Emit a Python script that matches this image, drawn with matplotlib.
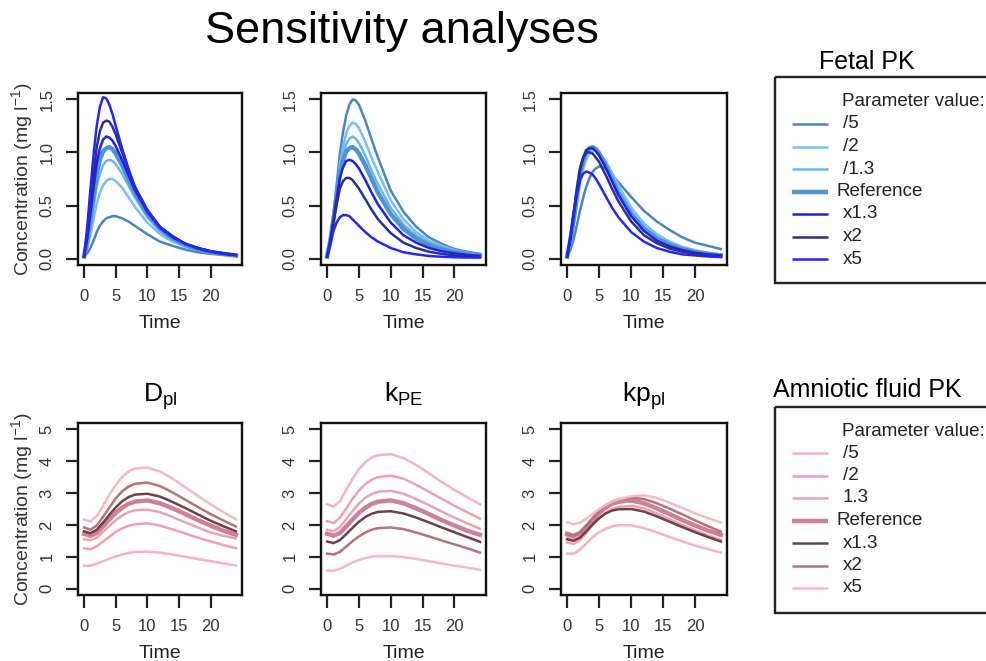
import matplotlib
matplotlib.use("Agg")
import matplotlib.pyplot as plt
from matplotlib.patches import Rectangle

plt.rcParams['font.family'] = ['Liberation Sans', 'DejaVu Sans']
plt.rcParams['mathtext.fontset'] = 'custom'
plt.rcParams['mathtext.rm'] = 'Liberation Sans'
plt.rcParams['mathtext.it'] = 'Liberation Sans:italic'

# time grids (h)
time_fetal = [0, 0.5, 1, 1.5, 2, 2.5, 3, 3.5, 4, 4.5, 5, 6, 7, 8, 10, 12, 14, 16, 18, 20, 22, 24]
time_af = [0, 1, 2, 3, 4, 5, 6, 7, 8, 10, 12, 14, 16, 18, 20, 22, 24]

labels_fetal = ['/5', '/2', '/1.3', 'Reference', 'x1.3', 'x2', 'x5']
labels_af = ['/5', '/2', '1.3', 'Reference', 'x1.3', 'x2', 'x5']
colors_fetal = ['#4a86bd', '#79bff2', '#6cb6ee', '#4f93cf', '#1f1fe6', '#2d2d8c', '#2626f2']
colors_af = ['#f6b3c2', '#f0a0b4', '#eaa3b5', '#cf8099', '#6e3f4d', '#b5727f', '#f5bac7']
widths = [1.8, 1.8, 1.8, 3.2, 1.8, 1.8, 1.8]

panel_titles = [r'D$_{\mathrm{pl}}$', r'k$_{\mathrm{PE}}$', r'kp$_{\mathrm{pl}}$']

# fetal PK, one list per parameter value (/5, /2, /1.3, ref, x1.3, x2, x5)
fetal_dpl = [
    [0.02, 0.05, 0.10, 0.17, 0.25, 0.31, 0.35, 0.38, 0.39, 0.40, 0.40, 0.38, 0.35, 0.31, 0.23, 0.16, 0.12, 0.085, 0.06, 0.045, 0.035, 0.025],
    [0.02, 0.10, 0.22, 0.37, 0.52, 0.62, 0.69, 0.73, 0.75, 0.75, 0.73, 0.67, 0.58, 0.49, 0.34, 0.23, 0.16, 0.11, 0.08, 0.055, 0.04, 0.03],
    [0.02, 0.14, 0.30, 0.49, 0.68, 0.80, 0.88, 0.92, 0.93, 0.92, 0.89, 0.80, 0.69, 0.58, 0.39, 0.26, 0.18, 0.12, 0.085, 0.06, 0.04, 0.03],
    [0.02, 0.17, 0.37, 0.59, 0.80, 0.93, 1.01, 1.04, 1.05, 1.03, 0.99, 0.88, 0.75, 0.62, 0.42, 0.28, 0.19, 0.13, 0.09, 0.06, 0.045, 0.03],
    [0.02, 0.19, 0.42, 0.67, 0.90, 1.04, 1.12, 1.15, 1.14, 1.11, 1.06, 0.93, 0.79, 0.65, 0.44, 0.29, 0.20, 0.14, 0.095, 0.065, 0.045, 0.03],
    [0.02, 0.23, 0.50, 0.79, 1.05, 1.20, 1.28, 1.30, 1.29, 1.24, 1.17, 1.00, 0.84, 0.68, 0.46, 0.30, 0.21, 0.14, 0.10, 0.07, 0.05, 0.035],
    [0.02, 0.30, 0.65, 0.98, 1.25, 1.43, 1.52, 1.51, 1.45, 1.36, 1.25, 1.04, 0.85, 0.68, 0.45, 0.30, 0.21, 0.14, 0.10, 0.07, 0.05, 0.035],
]
fetal_kpe = [
    [0.02, 0.19, 0.42, 0.70, 0.98, 1.19, 1.35, 1.45, 1.50, 1.49, 1.45, 1.30, 1.12, 0.95, 0.64, 0.44, 0.30, 0.20, 0.14, 0.09, 0.065, 0.045],
    [0.02, 0.17, 0.38, 0.63, 0.88, 1.05, 1.18, 1.25, 1.28, 1.27, 1.23, 1.10, 0.95, 0.81, 0.55, 0.37, 0.25, 0.17, 0.12, 0.08, 0.055, 0.04],
    [0.02, 0.17, 0.37, 0.60, 0.83, 0.98, 1.08, 1.13, 1.15, 1.13, 1.09, 0.97, 0.83, 0.70, 0.48, 0.32, 0.22, 0.15, 0.10, 0.07, 0.05, 0.035],
    [0.02, 0.17, 0.37, 0.59, 0.80, 0.93, 1.01, 1.04, 1.05, 1.03, 0.99, 0.88, 0.75, 0.62, 0.42, 0.28, 0.19, 0.13, 0.09, 0.06, 0.045, 0.03],
    [0.02, 0.16, 0.36, 0.57, 0.76, 0.86, 0.92, 0.93, 0.92, 0.89, 0.85, 0.74, 0.62, 0.51, 0.34, 0.22, 0.15, 0.10, 0.07, 0.05, 0.035, 0.025],
    [0.02, 0.16, 0.34, 0.51, 0.66, 0.73, 0.76, 0.76, 0.74, 0.70, 0.66, 0.56, 0.46, 0.37, 0.24, 0.15, 0.10, 0.065, 0.045, 0.03, 0.02, 0.015],
    [0.02, 0.13, 0.26, 0.34, 0.39, 0.41, 0.41, 0.40, 0.37, 0.34, 0.31, 0.25, 0.20, 0.16, 0.10, 0.06, 0.04, 0.025, 0.018, 0.013, 0.01, 0.01],
]
fetal_kppl = [
    [0.02, 0.08, 0.18, 0.31, 0.45, 0.57, 0.68, 0.76, 0.82, 0.85, 0.87, 0.85, 0.79, 0.72, 0.58, 0.45, 0.35, 0.27, 0.20, 0.15, 0.12, 0.09],
    [0.02, 0.14, 0.30, 0.50, 0.70, 0.84, 0.94, 0.99, 1.02, 1.02, 1.00, 0.92, 0.81, 0.69, 0.48, 0.33, 0.23, 0.16, 0.11, 0.08, 0.055, 0.04],
    [0.02, 0.16, 0.34, 0.56, 0.77, 0.90, 0.99, 1.03, 1.04, 1.02, 0.99, 0.89, 0.77, 0.64, 0.44, 0.30, 0.20, 0.14, 0.095, 0.065, 0.045, 0.03],
    [0.02, 0.17, 0.37, 0.59, 0.80, 0.93, 1.01, 1.04, 1.05, 1.03, 0.99, 0.88, 0.75, 0.62, 0.42, 0.28, 0.19, 0.13, 0.09, 0.06, 0.045, 0.03],
    [0.02, 0.18, 0.39, 0.62, 0.83, 0.95, 1.02, 1.04, 1.04, 1.01, 0.97, 0.86, 0.73, 0.60, 0.40, 0.26, 0.17, 0.115, 0.08, 0.055, 0.04, 0.03],
    [0.02, 0.20, 0.42, 0.65, 0.85, 0.95, 1.00, 1.00, 0.99, 0.95, 0.91, 0.79, 0.66, 0.54, 0.35, 0.22, 0.145, 0.095, 0.065, 0.045, 0.03, 0.02],
    [0.02, 0.21, 0.42, 0.60, 0.74, 0.80, 0.82, 0.81, 0.79, 0.75, 0.70, 0.59, 0.48, 0.39, 0.25, 0.16, 0.10, 0.065, 0.04, 0.03, 0.02, 0.015],
]

# amniotic fluid PK
af_dpl = [
    [0.72, 0.72, 0.78, 0.86, 0.94, 1.01, 1.07, 1.12, 1.15, 1.16, 1.13, 1.07, 1.00, 0.93, 0.86, 0.79, 0.73],
    [1.26, 1.24, 1.33, 1.48, 1.63, 1.78, 1.89, 1.97, 2.02, 2.05, 1.98, 1.86, 1.73, 1.60, 1.48, 1.37, 1.27],
    [1.55, 1.52, 1.60, 1.78, 1.97, 2.15, 2.29, 2.40, 2.46, 2.48, 2.40, 2.25, 2.08, 1.92, 1.76, 1.66, 1.58],
    [1.72, 1.66, 1.75, 1.95, 2.17, 2.38, 2.54, 2.66, 2.73, 2.77, 2.68, 2.52, 2.34, 2.15, 1.98, 1.82, 1.69],
    [1.80, 1.74, 1.85, 2.07, 2.32, 2.55, 2.74, 2.87, 2.95, 2.98, 2.89, 2.72, 2.53, 2.33, 2.13, 1.96, 1.80],
    [1.92, 1.85, 1.98, 2.25, 2.55, 2.83, 3.05, 3.20, 3.29, 3.33, 3.22, 3.02, 2.79, 2.56, 2.34, 2.14, 1.95],
    [2.17, 2.10, 2.28, 2.60, 2.95, 3.25, 3.50, 3.67, 3.77, 3.80, 3.68, 3.45, 3.18, 2.91, 2.65, 2.40, 2.18],
]
af_kpe = [
    [2.65, 2.57, 2.75, 3.10, 3.45, 3.75, 3.97, 4.12, 4.19, 4.22, 4.10, 3.88, 3.62, 3.35, 3.10, 2.87, 2.65],
    [2.12, 2.06, 2.22, 2.52, 2.82, 3.08, 3.28, 3.42, 3.50, 3.55, 3.45, 3.26, 3.04, 2.82, 2.60, 2.40, 2.20],
    [1.85, 1.80, 1.93, 2.18, 2.44, 2.67, 2.85, 2.97, 3.04, 3.07, 2.98, 2.81, 2.62, 2.42, 2.23, 2.05, 1.88],
    [1.72, 1.66, 1.75, 1.95, 2.17, 2.38, 2.54, 2.66, 2.73, 2.77, 2.68, 2.52, 2.34, 2.15, 1.98, 1.82, 1.69],
    [1.48, 1.43, 1.52, 1.71, 1.91, 2.10, 2.25, 2.35, 2.41, 2.43, 2.36, 2.23, 2.08, 1.92, 1.77, 1.62, 1.47],
    [1.10, 1.07, 1.15, 1.32, 1.49, 1.64, 1.76, 1.85, 1.90, 1.92, 1.87, 1.76, 1.64, 1.51, 1.39, 1.27, 1.13],
    [0.57, 0.56, 0.62, 0.72, 0.82, 0.90, 0.96, 1.00, 1.02, 1.02, 0.99, 0.93, 0.86, 0.79, 0.72, 0.66, 0.59],
]
af_kppl = [
    [1.10, 1.10, 1.22, 1.42, 1.62, 1.77, 1.88, 1.95, 1.99, 1.99, 1.90, 1.77, 1.62, 1.48, 1.35, 1.24, 1.13],
    [1.45, 1.40, 1.52, 1.75, 2.00, 2.22, 2.38, 2.50, 2.56, 2.60, 2.52, 2.36, 2.18, 2.00, 1.83, 1.67, 1.52],
    [1.62, 1.57, 1.68, 1.90, 2.14, 2.36, 2.53, 2.64, 2.71, 2.75, 2.68, 2.53, 2.35, 2.17, 1.99, 1.83, 1.67],
    [1.72, 1.66, 1.75, 1.95, 2.17, 2.38, 2.54, 2.66, 2.73, 2.77, 2.68, 2.52, 2.34, 2.15, 1.98, 1.82, 1.69],
    [1.55, 1.50, 1.60, 1.80, 2.02, 2.21, 2.36, 2.45, 2.49, 2.50, 2.42, 2.27, 2.10, 1.93, 1.77, 1.62, 1.48],
    [1.70, 1.65, 1.76, 1.98, 2.22, 2.44, 2.61, 2.73, 2.81, 2.86, 2.81, 2.68, 2.51, 2.33, 2.14, 1.96, 1.79],
    [2.08, 2.02, 2.07, 2.20, 2.35, 2.50, 2.63, 2.73, 2.81, 2.90, 2.93, 2.85, 2.70, 2.53, 2.36, 2.21, 2.08],
]

fetal = [fetal_dpl, fetal_kpe, fetal_kppl]
amnio = [af_dpl, af_kpe, af_kppl]

W, H = 987, 661
fig = plt.figure(figsize=(W / 100, H / 100), dpi=100)
fig.patch.set_facecolor('white')

def px_axes(x0, y0, x1, y1):
    # pixel box (top-left origin) -> figure fraction
    return fig.add_axes([x0 / W, 1 - y1 / H, (x1 - x0) / W, (y1 - y0) / H])

col_x = [(78, 242), (321, 486), (561, 727)]
ylab = r'Concentration (mg l$^{\mathrm{-1}}$)'

def style(ax, ymax, yticks, fmt):
    ax.set_xlim(-0.96, 24.96)
    ax.set_ylim(-0.04 * ymax, ymax * 1.04)
    ax.set_xticks([0, 5, 10, 15, 20])
    ax.set_yticks(yticks)
    ax.set_yticklabels([fmt % v for v in yticks], rotation=90, va='center')
    ax.tick_params(direction='out', length=9, width=1.6, labelsize=12, color='#222222',
                   labelcolor='#333333', pad=8)
    for s in ax.spines.values():
        s.set_linewidth(1.7)
        s.set_color('#111111')
    ax.set_xlabel('Time', fontsize=14, color='#222222', labelpad=8)

for j in range(3):
    x0, x1 = col_x[j]
    ax = px_axes(x0, 93, x1, 265)
    for k in range(7):
        ax.plot(time_fetal, fetal[j][k], color=colors_fetal[k], lw=widths[k])
    style(ax, 1.5, [0.0, 0.5, 1.0, 1.5], '%.1f')
    if j == 0:
        ax.set_ylabel(ylab, fontsize=14, color='#333333', labelpad=3)

    ax = px_axes(x0, 423, x1, 595)
    for k in range(7):
        ax.plot(time_af, amnio[j][k], color=colors_af[k], lw=widths[k])
    style(ax, 5, [0, 1, 2, 3, 4, 5], '%d')
    ax.set_title(panel_titles[j], fontsize=19, pad=15)
    if j == 0:
        ax.set_ylabel(ylab, fontsize=14, color='#333333', labelpad=3)

fig.text(402 / W, 1 - 31 / H, 'Sensitivity analyses', fontsize=32.5, ha='center', va='center')

# legend panels drawn in pixel coordinates
lax = fig.add_axes([0, 0, 1, 1])
lax.set_xlim(0, W)
lax.set_ylim(H, 0)
lax.axis('off')

def legend_box(title, ty, top, bottom, labels, colors, first_y):
    lax.text(867, ty, title, fontsize=18, ha='center', va='center')
    lax.add_patch(Rectangle((775, top), 240, bottom - top, fill=False, lw=1.7, edgecolor='#222222'))
    lax.text(842, first_y - 22, 'Parameter value:', fontsize=13.5, va='center', color='#222222')
    for k, lab in enumerate(labels):
        y = first_y + 22.5 * k
        lax.plot([792, 828], [y, y], color=colors[k], lw=widths[k], solid_capstyle='butt')
        tx = 837 if lab == 'Reference' else 843
        lax.text(tx, y, lab, fontsize=13.5, va='center', color='#222222')

legend_box('Fetal PK', 62, 77, 283, labels_fetal, colors_fetal, 124)
legend_box('Amniotic fluid PK', 390, 407, 613, labels_af, colors_af, 453)

fig.savefig('out.png', dpi=100)
